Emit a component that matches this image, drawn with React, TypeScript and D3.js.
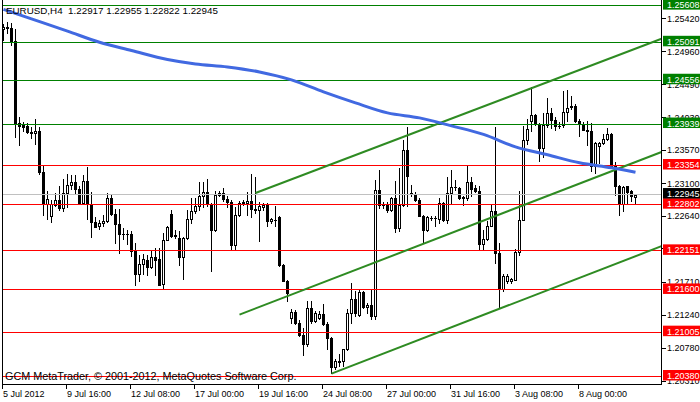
import React from 'react';
import * as d3 from 'd3';

// chart header / footer texts
const symbolTitle = 'EURUSD,H4  1.22917 1.22955 1.22822 1.22945';
const copyright = 'GCM MetaTrader, \u00a9 2001-2012, MetaQuotes Software Corp.';

// H4 candles, 5 Jul 2012 00:00 onwards (weekends skipped)
const opens = [
  1.25274, 1.25292, 1.25288, 1.2511, 1.2396, 1.23937, 1.23914, 1.23829, 1.2381, 1.23843,
  1.23266, 1.22816, 1.22638, 1.22797, 1.22868, 1.22751, 1.22966, 1.23074, 1.23121, 1.23027,
  1.22825, 1.23135, 1.22816, 1.22563, 1.22502, 1.2254, 1.22567, 1.22896, 1.22671, 1.2253,
  1.22389, 1.22394, 1.22389, 1.22155, 1.21827, 1.21967, 1.22028, 1.2193, 1.2207, 1.22042,
  1.21686, 1.22309, 1.2267, 1.22374, 1.2233, 1.2206, 1.22332, 1.226, 1.22717, 1.22778,
  1.22919, 1.22975, 1.22811, 1.2244, 1.22933, 1.22965, 1.22881, 1.22834, 1.22238, 1.2266,
  1.22825, 1.22825, 1.22848, 1.2274, 1.22731, 1.22768, 1.22801, 1.22576, 1.2259, 1.22623,
  1.21957, 1.21732, 1.21207, 1.21286, 1.21136, 1.20972, 1.20841, 1.21347, 1.2116, 1.21207,
  1.21268, 1.21127, 1.20926, 1.20518, 1.20584, 1.20598, 1.20762, 1.21278, 1.21475, 1.2124,
  1.21578, 1.21362, 1.21381, 1.21231, 1.23013, 1.22802, 1.22816, 1.22722, 1.22896, 1.22474,
  1.22802, 1.23576, 1.22957, 1.22957, 1.22863, 1.22647, 1.22441, 1.2261, 1.22619, 1.226,
  1.22825, 1.22591, 1.22966, 1.23046, 1.23037, 1.2291, 1.22896, 1.23121, 1.23037, 1.2299,
  1.22249, 1.22324, 1.22506, 1.22708, 1.22122, 1.21615, 1.21723, 1.21723, 1.21746, 1.22131,
  1.22591, 1.23717, 1.23975, 1.24069, 1.23928, 1.236, 1.23928, 1.24092, 1.23998, 1.23914,
  1.23928, 1.24106, 1.24186, 1.24195, 1.23975, 1.23928, 1.23858, 1.23834, 1.23342, 1.23632,
  1.2367, 1.23726, 1.23801, 1.23351, 1.2307, 1.22816, 1.2306, 1.2299, 1.22917,
];
const highs = [
  1.25349, 1.25382, 1.25367, 1.25274, 1.24035, 1.2397, 1.23951, 1.23895, 1.24012, 1.2389,
  1.23351, 1.22994, 1.22872, 1.22966, 1.23069, 1.23168, 1.23238, 1.23224, 1.23215, 1.2306,
  1.23224, 1.23337, 1.2298, 1.22628, 1.22586, 1.22657, 1.22971, 1.22952, 1.22746, 1.22746,
  1.22474, 1.22446, 1.22436, 1.22267, 1.22094, 1.22103, 1.22094, 1.22169, 1.22188, 1.22188,
  1.22403, 1.22506, 1.22731, 1.22449, 1.22426, 1.22346, 1.22731, 1.22895, 1.22895, 1.2312,
  1.2312, 1.23167, 1.2283, 1.2299, 1.22989, 1.23036, 1.22918, 1.22872, 1.22764, 1.22848,
  1.22872, 1.22979, 1.23237, 1.2319, 1.22834, 1.22825, 1.22825, 1.22614, 1.22778, 1.2264,
  1.2196, 1.2174, 1.21333, 1.21324, 1.21183, 1.21066, 1.21441, 1.21441, 1.213, 1.213,
  1.21403, 1.21146, 1.2094, 1.20621, 1.20692, 1.20771, 1.21334, 1.217, 1.21583, 1.21606,
  1.21587, 1.21418, 1.21606, 1.23154, 1.23294, 1.22835, 1.22844, 1.2291, 1.2313, 1.23318,
  1.23717, 1.23904, 1.23083, 1.22975, 1.22896, 1.22661, 1.22647, 1.22638, 1.22647, 1.22896,
  1.22835, 1.23191, 1.23294, 1.23154, 1.23051, 1.22929, 1.23351, 1.23191, 1.23083, 1.2306,
  1.2245, 1.22568, 1.22802, 1.23904, 1.22262, 1.21831, 1.21831, 1.2177, 1.22178, 1.22989,
  1.23913, 1.24008, 1.24458, 1.24077, 1.23951, 1.24101, 1.24303, 1.24162, 1.24044, 1.23961,
  1.24411, 1.2442, 1.24336, 1.24223, 1.24008, 1.23961, 1.23975, 1.23951, 1.23679, 1.23679,
  1.23801, 1.23881, 1.23811, 1.23398, 1.23075, 1.2307, 1.2307, 1.23004, 1.22955,
];
const lows = [
  1.25124, 1.25217, 1.25053, 1.23754, 1.23642, 1.23834, 1.2381, 1.23735, 1.23656, 1.23233,
  1.22657, 1.22605, 1.22558, 1.22779, 1.22722, 1.22718, 1.22769, 1.23023, 1.22952, 1.22816,
  1.22816, 1.22605, 1.22342, 1.22488, 1.22464, 1.22497, 1.22558, 1.22661, 1.22258, 1.22122,
  1.22324, 1.22249, 1.22075, 1.21667, 1.21723, 1.21827, 1.21808, 1.21906, 1.21808, 1.21667,
  1.21615, 1.22299, 1.22346, 1.22332, 1.21957, 1.21755, 1.22318, 1.22543, 1.22684, 1.22731,
  1.22764, 1.2279, 1.21873, 1.22426, 1.22919, 1.2285, 1.22764, 1.22159, 1.22168, 1.22646,
  1.22801, 1.2266, 1.22623, 1.22684, 1.22285, 1.22731, 1.22506, 1.22543, 1.22496, 1.21934,
  1.21722, 1.21441, 1.21136, 1.21127, 1.20949, 1.20677, 1.20808, 1.21136, 1.21146, 1.21193,
  1.21113, 1.2077, 1.20434, 1.2048, 1.20527, 1.20527, 1.20752, 1.21137, 1.21231, 1.21231,
  1.21348, 1.21278, 1.21184, 1.21184, 1.22755, 1.22755, 1.22694, 1.22708, 1.22413, 1.22427,
  1.22788, 1.22788, 1.22919, 1.22849, 1.22638, 1.22272, 1.22427, 1.22582, 1.22497, 1.22544,
  1.22568, 1.22544, 1.22811, 1.23013, 1.22886, 1.22802, 1.22872, 1.22919, 1.22975, 1.22178,
  1.22178, 1.2231, 1.22497, 1.21981, 1.21348, 1.21582, 1.21699, 1.21699, 1.21737, 1.22098,
  1.22581, 1.23661, 1.23834, 1.23927, 1.23412, 1.23473, 1.23904, 1.23881, 1.23858, 1.23881,
  1.23904, 1.23975, 1.24148, 1.23961, 1.23773, 1.23848, 1.23646, 1.23271, 1.23248, 1.23389,
  1.2366, 1.23707, 1.2334, 1.22943, 1.22662, 1.22708, 1.22826, 1.22849, 1.22822,
];
const closes = [
  1.25302, 1.25307, 1.251, 1.2396, 1.23914, 1.23904, 1.2382, 1.2381, 1.23843, 1.23257,
  1.22825, 1.22882, 1.22816, 1.22868, 1.22751, 1.22966, 1.23083, 1.23121, 1.23023, 1.22825,
  1.23135, 1.22816, 1.22553, 1.22488, 1.22544, 1.22572, 1.22896, 1.22671, 1.2253, 1.22389,
  1.22394, 1.22385, 1.22155, 1.21827, 1.21967, 1.22038, 1.2193, 1.2207, 1.22028, 1.21676,
  1.2231, 1.22487, 1.22365, 1.2236, 1.2206, 1.22332, 1.226, 1.22707, 1.22787, 1.22919,
  1.22975, 1.22811, 1.2244, 1.22932, 1.22965, 1.22881, 1.22834, 1.22238, 1.2266, 1.22825,
  1.22839, 1.22858, 1.2274, 1.22726, 1.22787, 1.22801, 1.22567, 1.22604, 1.22581, 1.21957,
  1.21732, 1.21558, 1.21286, 1.21136, 1.20972, 1.20841, 1.21347, 1.2116, 1.21277, 1.21268,
  1.21127, 1.20926, 1.20518, 1.20598, 1.20598, 1.20762, 1.21278, 1.21475, 1.21278, 1.21578,
  1.21362, 1.21381, 1.21231, 1.23013, 1.22802, 1.22811, 1.22722, 1.22896, 1.22474, 1.22802,
  1.23576, 1.23201, 1.22966, 1.22863, 1.22647, 1.22441, 1.22628, 1.22619, 1.2261, 1.22825,
  1.22591, 1.22966, 1.23051, 1.23055, 1.22896, 1.229, 1.23121, 1.23027, 1.2299, 1.22249,
  1.22324, 1.22497, 1.22708, 1.22122, 1.21615, 1.21803, 1.21793, 1.21756, 1.22131, 1.22591,
  1.23716, 1.23867, 1.24069, 1.23951, 1.236, 1.23928, 1.24092, 1.23998, 1.23914, 1.23914,
  1.24106, 1.24162, 1.24195, 1.23975, 1.23942, 1.23848, 1.23834, 1.23342, 1.2367, 1.2367,
  1.23726, 1.23801, 1.23351, 1.2306, 1.22816, 1.23051, 1.22976, 1.2292, 1.22945,
];

// moving average (blue), read at some bars
const maBars = [0, 7, 16, 24, 32, 41, 48, 56, 64, 72, 80, 88, 96, 104, 112, 120, 128, 136, 144, 152, 158];
const maValues = [
  1.25556, 1.25422, 1.25249, 1.25091, 1.24976, 1.24849, 1.24786, 1.24744, 1.24673, 1.24561,
  1.24392, 1.24237, 1.24096, 1.24026, 1.23913, 1.23793, 1.23617, 1.23505, 1.23392, 1.23322, 1.23258,
];

// horizontal levels
const greenLevels = [1.25608, 1.25091, 1.24556, 1.23939];
const redLevels = [1.23354, 1.22802, 1.22151, 1.216, 1.21005, 1.2038];
const bidPrice = 1.22945;
const priceTicks = [1.2542, 1.2496, 1.2449, 1.2403, 1.2357, 1.231, 1.2264, 1.2218, 1.2171, 1.2124, 1.2078, 1.2031];

// trend channel rays (two anchors each, bar index + price)
const channelStartBars = [63, 59, 82];
const channelStartPrices = [1.22967, 1.21252, 1.20421];
const channelEndBars = [121, 121, 121];
const channelEndPrices = [1.24209, 1.22599, 1.2127];

const firstBarTime = Date.UTC(2012, 6, 5, 0);
const timeLabelEvery = 16;

const W = 700;
const H = 402;
const plotLeft = 2.5;
const plotRight = 661.5;
const plotBottom = 384.5;
const font = "'Liberation Sans', Arial, sans-serif";

export default function App() {
  const n = opens.length;
  const x = d3.scaleLinear().domain([0, n - 1]).range([3.5, 3.5 + 4 * (n - 1)]);
  const y = d3.scaleLinear().domain([1.2038, 1.25091]).range([376.5, 42.3]);
  const row = (v: number) => Math.floor(y(v)) + 0.5;
  const fmt = d3.format('.5f');

  // bar times, skip weekends
  const times: Date[] = [];
  let t = new Date(firstBarTime);
  while (times.length < n) {
    const wd = t.getUTCDay();
    if (wd !== 0 && wd !== 6) times.push(t);
    t = d3.utcHour.offset(t, 4);
  }
  const fmtFirst = d3.utcFormat('%-d %b %Y');
  const fmtTime = d3.utcFormat('%-d %b %H:%M');
  const timeTicks = d3.range(0, n, timeLabelEvery);

  const maLine = d3.line<number>()
    .x((_, i) => x(maBars[i]))
    .y(d => y(d))
    .curve(d3.curveMonotoneX);

  const channels = channelStartBars.map((b, i) => {
    const x1 = x(b), y1 = y(channelStartPrices[i]);
    const x2 = x(channelEndBars[i]), y2 = y(channelEndPrices[i]);
    const slope = (y2 - y1) / (x2 - x1);
    return { x1, y1, x2: plotRight, y2: y1 + slope * (plotRight - x1) };
  });

  const levelBox = (v: number, fill: string, key: string) => {
    const yy = y(v);
    return (
      <g key={key}>
        <rect x={663} y={yy - 6.5} width={37} height={10.5} fill={fill} />
        <text x={667} y={yy + 2.5} fill="#fff" fontSize={9} fontFamily={font}>{fmt(v)}</text>
      </g>
    );
  };

  return (
    <svg width={W} height={H} style={{ position: 'absolute', left: 0, top: 0, background: '#fff' }}>
      <defs>
        <clipPath id="plot">
          <rect x={plotLeft} y={0} width={plotRight - plotLeft} height={plotBottom} />
        </clipPath>
      </defs>

      {/* candles */}
      <g shapeRendering="crispEdges">
        {opens.map((o, i) => {
          const c = closes[i];
          const cx = x(i);
          const top = Math.round(y(Math.max(o, c)));
          const bot = Math.round(y(Math.min(o, c)));
          const bull = c >= o;
          return (
            <g key={i}>
              <line x1={cx} x2={cx} y1={Math.round(y(highs[i]))} y2={Math.round(y(lows[i])) + 1} stroke="#000" />
              {bot - top < 1 ? (
                <line x1={cx - 1.5} x2={cx + 1.5} y1={top + 0.5} y2={top + 0.5} stroke="#000" />
              ) : (
                <rect x={cx - 1} y={top + 0.5} width={2} height={bot - top} fill={bull ? '#fff' : '#000'} stroke="#000" />
              )}
            </g>
          );
        })}
      </g>

      {/* horizontal levels */}
      <g shapeRendering="crispEdges">
        <line x1={plotLeft} x2={plotRight} y1={row(bidPrice)} y2={row(bidPrice)} stroke="#c0c0c0" />
        {greenLevels.map(v => (
          <line key={'g' + v} x1={plotLeft} x2={plotRight} y1={row(v)} y2={row(v)} stroke="#008000" />
        ))}
        {redLevels.map(v => (
          <line key={'r' + v} x1={plotLeft} x2={plotRight} y1={row(v)} y2={row(v)} stroke="#ff0000" />
        ))}
      </g>

      {/* channel + MA */}
      <g clipPath="url(#plot)">
        {channels.map((l, i) => (
          <line key={i} x1={l.x1} y1={l.y1} x2={l.x2} y2={l.y2} stroke="#2e8b22" strokeWidth={2} />
        ))}
        <path d={maLine(maValues) || ''} fill="none" stroke="#4169e1" strokeWidth={3} />
      </g>

      {/* frame */}
      <g shapeRendering="crispEdges" stroke="#000" fill="none">
        <line x1={plotLeft} x2={plotLeft} y1={0} y2={plotBottom} />
        <line x1={plotRight} x2={plotRight} y1={0} y2={plotBottom + 0.5} />
        <line x1={plotLeft} x2={plotRight} y1={plotBottom} y2={plotBottom} />
      </g>

      {/* price axis */}
      <g fontFamily={font} fontSize={9} fill="#000">
        {priceTicks.map(v => (
          <g key={v}>
            <line x1={plotRight} x2={plotRight + 4} y1={row(v)} y2={row(v)} stroke="#000" shapeRendering="crispEdges" />
            <text x={667} y={y(v) + 3}>{fmt(v)}</text>
          </g>
        ))}
      </g>
      {greenLevels.map(v => levelBox(v, '#008000', 'bg' + v))}
      {redLevels.map(v => levelBox(v, '#ff0000', 'br' + v))}
      {levelBox(bidPrice, '#000', 'bid')}

      {/* time axis */}
      <g fontFamily={font} fontSize={9} fill="#000">
        {timeTicks.map(i => {
          const tx = x(i) - 1;
          return (
            <g key={i}>
              <line x1={tx} x2={tx} y1={plotBottom} y2={plotBottom + 4} stroke="#000" shapeRendering="crispEdges" />
              <text x={tx + 0.5} y={397}>{i === 0 ? fmtFirst(times[i]) : fmtTime(times[i])}</text>
            </g>
          );
        })}
      </g>

      <text x={6} y={14} fontFamily={font} fontSize={9.8} fill="#000" style={{ whiteSpace: 'pre' }}>{symbolTitle}</text>
      <text x={5} y={380} fontFamily={font} fontSize={10.8} fill="#000">{copyright}</text>
    </svg>
  );
}
